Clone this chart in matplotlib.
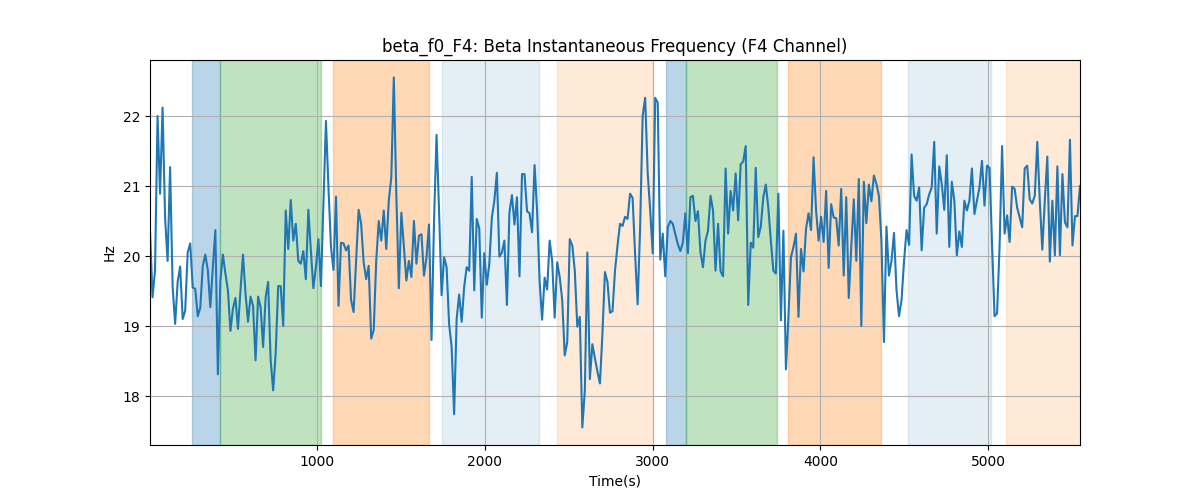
import numpy as np
import matplotlib
matplotlib.use("Agg")
import matplotlib.pyplot as plt

# beta instantaneous frequency, F4 channel (Hz), one sample every ~15 s
freq = [
    20.36, 19.41, 19.79, 22.00, 20.89, 22.12, 20.55, 19.93, 21.27, 19.56,
    19.03, 19.63, 19.85, 19.10, 19.22, 20.05, 20.18, 19.55, 19.53, 19.14,
    19.26, 19.86, 20.02, 19.80, 19.27, 19.84, 20.37, 18.31, 19.65, 20.02,
    19.75, 19.51, 18.93, 19.25, 19.40, 18.96, 19.51, 20.02, 19.46, 19.06,
    19.42, 19.29, 18.51, 19.42, 19.27, 18.70, 19.41, 19.63, 18.51, 18.08,
    18.61, 19.57, 19.57, 19.00,
    20.65, 20.10, 20.80, 20.22, 20.46, 19.93, 19.89, 20.07, 19.67, 20.66,
    20.08, 19.54, 19.84, 20.24, 19.57, 20.74, 21.93, 20.98, 20.13, 19.80,
    20.85, 19.29, 20.19, 20.18, 20.08, 20.15, 19.37, 19.20, 19.93, 20.66,
    20.46, 19.91, 19.67, 19.86, 18.82, 18.94, 19.93, 20.50, 20.22, 20.65,
    20.10, 20.79, 21.12, 22.55, 20.88, 19.54, 20.62, 20.13, 19.65, 19.93,
    19.70, 20.50, 19.89, 20.29,
    20.31, 19.72, 19.98, 20.45, 18.80, 20.50, 21.73, 20.65, 19.44, 19.98,
    19.84, 19.03, 18.70, 17.74, 19.10, 19.45, 19.06, 19.56, 19.84, 19.79,
    21.13, 19.51, 20.53, 20.39, 19.12, 20.04, 19.59, 19.89, 20.55, 20.79,
    21.19, 19.99, 20.05, 20.22, 19.30, 20.62, 20.87, 20.45, 20.84, 19.71,
    21.17, 21.17, 20.64, 20.61, 20.34, 21.30, 20.65, 19.64, 19.09, 19.69,
    19.52, 20.22, 19.93, 19.12,
    19.91, 19.70, 19.37, 18.58, 18.77, 20.24, 20.15, 19.79, 18.99, 19.13,
    17.55, 18.08, 20.05, 18.24, 18.74, 18.54, 18.35, 18.18, 18.89, 19.77,
    19.63, 19.19, 19.21, 19.79, 20.15, 20.46, 20.43, 20.56, 20.53, 20.89,
    20.83, 20.02, 19.31, 20.41, 22.00, 22.26, 21.19, 20.65, 20.04, 22.26,
    22.19, 19.95, 20.32, 19.71, 20.41, 20.50, 20.46, 20.31, 20.17, 20.07,
    20.19, 20.61, 20.04, 20.84,
    20.86, 20.50, 20.64, 20.05, 19.84, 20.22, 20.36, 20.86, 20.65, 19.79,
    20.46, 19.78, 19.71, 21.25, 20.32, 20.93, 20.65, 21.18, 20.51, 21.31,
    21.35, 21.57, 19.30, 20.19, 20.12, 21.26, 20.27, 20.42, 20.84, 21.02,
    20.69, 20.22, 19.79, 19.75, 20.89, 19.08, 20.36, 18.38, 19.13, 19.98,
    20.13, 20.32, 19.13, 20.10, 19.78, 20.39, 20.61, 20.37, 21.41, 20.65,
    20.22, 20.56, 20.20, 20.93,
    19.83, 20.74, 20.55, 20.54, 20.15, 20.96, 19.72, 20.84, 19.40, 20.13,
    20.81, 19.93, 21.10, 19.00, 21.06, 20.47, 21.02, 20.78, 21.15, 21.03,
    20.86, 20.22, 18.77, 20.42, 19.72, 19.93, 20.33, 19.51, 19.14, 19.37,
    19.93, 20.37, 20.16, 21.45, 20.86, 20.79, 20.98, 20.08, 20.69, 20.74,
    20.88, 20.98, 21.63, 20.32, 21.28, 21.03, 20.66, 21.44, 20.13, 21.06,
    20.79, 20.01, 20.35,
    20.13, 20.79, 20.65, 20.79, 21.25, 20.60, 20.79, 20.98, 21.36, 20.72,
    21.29, 21.26, 20.17, 19.14, 19.18, 20.13, 21.57, 20.32, 20.58, 20.20,
    20.99, 20.96, 20.69, 20.55, 20.41, 21.25, 21.29, 20.81, 20.75, 20.86,
    21.63, 20.79, 20.09, 20.79, 21.42, 19.92, 20.79, 20.01, 21.28, 20.01,
    21.17, 20.48, 20.41, 21.66, 20.15, 20.57, 20.57, 21.00,
]
t_start = 4.5
t_step = 14.98
time = t_start + t_step * np.arange(len(freq))

# shaded segments: (start, end, colour, alpha)
span_starts = [255, 422, 1095, 1745, 2431, 3080, 3200, 3808, 4523, 5108]
span_ends = [422, 1024, 1668, 2324, 3003, 3200, 3743, 4362, 5018, 5600]
span_colors = ['tab:blue', 'tab:green', 'tab:orange', 'tab:blue', 'tab:orange',
               'tab:blue', 'tab:green', 'tab:orange', 'tab:blue', 'tab:orange']
span_alphas = [0.3, 0.3, 0.3, 0.12, 0.16, 0.3, 0.3, 0.3, 0.12, 0.16]

fig, ax = plt.subplots(figsize=(12, 5), dpi=100)

for s, e, c, a in zip(span_starts, span_ends, span_colors, span_alphas):
    ax.axvspan(s, e, color=c, alpha=a)

ax.plot(time, freq, color='tab:blue', lw=1.5)

ax.set_xlim(time[0], time[-1])
ax.grid(True)
ax.set_title('beta_f0_F4: Beta Instantaneous Frequency (F4 Channel)')
ax.set_xlabel('Time(s)')
ax.set_ylabel('Hz')

fig.savefig('out.png', dpi=100)
